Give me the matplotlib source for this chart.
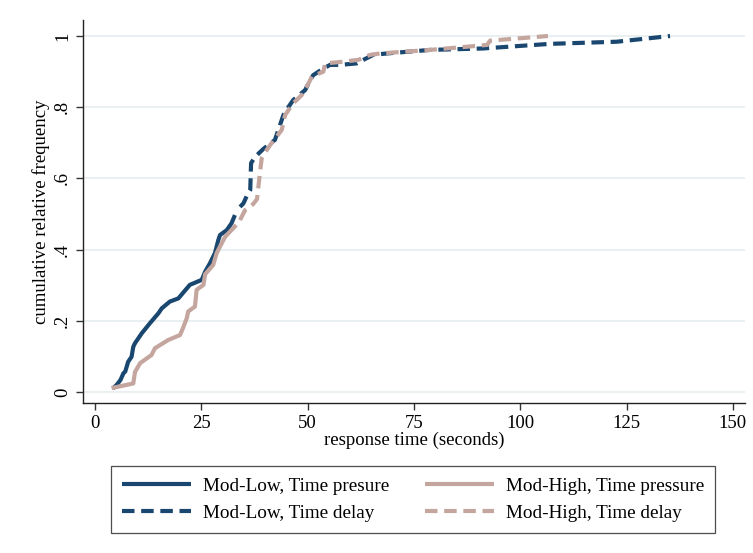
import numpy as np
import matplotlib.pyplot as plt

# response times (seconds) and cumulative relative frequency
low_press_t = [4.2, 5.1, 6.0, 6.7, 7.1, 7.8, 8.6, 9.0, 9.4, 11.0, 12.9, 14.9, 15.7,
               17.6, 19.6, 22.3, 25.1, 25.9, 27.0, 28.2, 29.0, 29.4, 31.0, 32.1, 32.9]
low_press_f = [0.010, 0.020, 0.034, 0.053, 0.057, 0.085, 0.099, 0.127, 0.137, 0.165,
               0.193, 0.221, 0.235, 0.254, 0.263, 0.301, 0.315, 0.338, 0.361, 0.390,
               0.427, 0.441, 0.455, 0.474, 0.497]

low_delay_t = [34.1, 34.9, 35.7, 36.5, 36.7, 37.6, 39.6, 42.3, 43.1, 44.3, 45.5, 46.6,
               49.4, 50.6, 51.3, 53.7, 55.3, 57.6, 61.5, 63.1, 65.4, 68.6, 78.8, 91.2,
               107.0, 122.7, 135.2]
low_delay_f = [0.520, 0.530, 0.551, 0.567, 0.643, 0.660, 0.683, 0.708, 0.736, 0.778,
               0.801, 0.820, 0.848, 0.876, 0.890, 0.909, 0.919, 0.919, 0.923, 0.933,
               0.947, 0.951, 0.961, 0.965, 0.978, 0.984, 1.0]

high_press_t = [3.9, 9.0, 9.4, 10.6, 13.3, 14.1, 17.2, 20.0, 20.8, 21.6, 21.9, 23.5,
                23.9, 25.5, 25.9, 27.8, 28.6, 29.8, 30.6, 33.2]
high_press_f = [0.011, 0.024, 0.056, 0.081, 0.104, 0.123, 0.146, 0.160, 0.183, 0.208,
                0.226, 0.240, 0.287, 0.301, 0.331, 0.357, 0.390, 0.418, 0.436, 0.469]

high_delay_t = [34.1, 35.3, 37.2, 38.1, 38.6, 38.8, 39.2, 40.4, 41.2, 43.9, 44.7, 46.6,
                48.6, 50.2, 51.0, 53.7, 54.1, 58.4, 61.9, 64.7, 67.0, 78.8, 92.2, 92.9,
                106.5]
high_delay_f = [0.483, 0.511, 0.528, 0.542, 0.596, 0.618, 0.657, 0.680, 0.694, 0.736,
                0.778, 0.811, 0.834, 0.867, 0.886, 0.900, 0.923, 0.928, 0.933, 0.947,
                0.951, 0.961, 0.975, 0.987, 1.0]

labels = ["Mod-Low, Time presure", "Mod-Low, Time delay",
          "Mod-High, Time pressure", "Mod-High, Time delay"]

navy = "#1a476f"
rose = "#c4a69e"

plt.rcParams['font.family'] = ['Liberation Serif', 'DejaVu Serif']

fig = plt.figure(figsize=(7.53, 5.53), dpi=100)
W, H = 753, 553
ax = fig.add_axes([83 / W, 1 - 403 / H, (745 - 83) / W, (403 - 20) / H])

lw = 3.0
dash = (0, (3, 1.6))
l1, = ax.plot(low_press_t, low_press_f, color=navy, lw=lw, solid_capstyle='butt', zorder=3)
l2, = ax.plot(low_delay_t, low_delay_f, color=navy, lw=lw, linestyle=dash,
              dash_capstyle='butt', zorder=3)
l3, = ax.plot(high_press_t, high_press_f, color=rose, lw=lw, solid_capstyle='butt', zorder=3)
l4, = ax.plot(high_delay_t, high_delay_f, color=rose, lw=lw, linestyle=dash,
              dash_capstyle='butt', zorder=3)

ax.set_xlim(-2.82, 152.83)
ax.set_ylim(-0.0309, 1.045)

yt = [0, 0.2, 0.4, 0.6, 0.8, 1.0]
ax.set_yticks(yt)
ax.set_yticklabels(["0", ".2", ".4", ".6", ".8", "1"], rotation=90, va='center')
ax.set_xticks([0, 25, 50, 75, 100, 125, 150])
ax.tick_params(labelsize=13.5, direction='out', length=5, width=1, color='#333333')
ax.grid(axis='y', color='#e6eef0', lw=1.2, zorder=0)
ax.set_axisbelow(True)

for s in ['top', 'right']:
    ax.spines[s].set_visible(False)
for s in ['left', 'bottom']:
    ax.spines[s].set_linewidth(1)
    ax.spines[s].set_color('#222222')

ax.set_xlabel("response time (seconds)", fontsize=13.5, labelpad=0)
ax.set_ylabel("cumulative relative frequency", fontsize=13.5, labelpad=3)

leg = fig.legend([l1, l2, l3, l4], labels, ncol=2, loc='upper center',
                 bbox_to_anchor=(413 / W, 1 - 466 / H), fontsize=13.8,
                 frameon=True, fancybox=False, edgecolor='#222222',
                 handlelength=3.6, handletextpad=0.6, columnspacing=1.9,
                 borderpad=0.6, labelspacing=0.5, borderaxespad=0)
leg.get_frame().set_linewidth(0.9)

fig.savefig("out.png", dpi=100)
